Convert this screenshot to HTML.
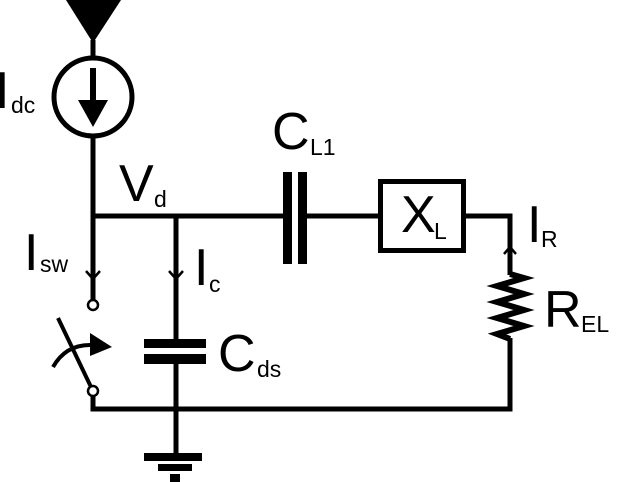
<!DOCTYPE html>
<html>
<head>
<meta charset="utf-8">
<style>
  html,body{margin:0;padding:0;background:#fff;}
  body{width:619px;height:482px;overflow:hidden;}
  svg{display:block;}
  text{font-family:"Liberation Sans", Arial, sans-serif;fill:#000;}
</style>
</head>
<body>
<svg width="619" height="482" viewBox="0 0 619 482" xmlns="http://www.w3.org/2000/svg">
  <!-- supply triangle -->
  <polygon points="66,0 121,0 93,43" fill="#000"/>
  <line x1="93" y1="40" x2="93" y2="58" stroke="#000" stroke-width="5"/>
  <!-- current source -->
  <circle cx="93" cy="97" r="39" fill="none" stroke="#000" stroke-width="5"/>
  <rect x="90" y="68" width="6" height="34" fill="#000"/>
  <polygon points="78,100 108,100 93,127" fill="#000"/>
  <!-- left vertical wire -->
  <line x1="93" y1="136" x2="93" y2="300" stroke="#000" stroke-width="5"/>
  <!-- top horizontal wire -->
  <line x1="90.5" y1="216" x2="283" y2="216" stroke="#000" stroke-width="5"/>
  <line x1="307" y1="216" x2="380" y2="216" stroke="#000" stroke-width="5"/>
  <line x1="463" y1="216" x2="512.5" y2="216" stroke="#000" stroke-width="5"/>
  <!-- CL1 capacitor -->
  <rect x="283" y="172" width="9" height="92" fill="#000"/>
  <rect x="298" y="172" width="9" height="92" fill="#000"/>
  <!-- XL box -->
  <rect x="380.5" y="181.5" width="83" height="69" fill="#fff" stroke="#000" stroke-width="5"/>
  <!-- right vertical -->
  <line x1="510" y1="213.5" x2="510" y2="275" stroke="#000" stroke-width="5"/>
  <polyline points="510,274 524,278 497,286 524,294 497,302 524,310 497,318 524,326 497,334 510,339" fill="none" stroke="#000" stroke-width="6" stroke-linejoin="miter"/>
  <line x1="510" y1="338" x2="510" y2="411.5" stroke="#000" stroke-width="5"/>
  <!-- bottom wire -->
  <line x1="93" y1="396" x2="93" y2="411.5" stroke="#000" stroke-width="5"/>
  <line x1="90.5" y1="409" x2="512.5" y2="409" stroke="#000" stroke-width="5"/>
  <!-- Cds branch -->
  <line x1="176" y1="216" x2="176" y2="340" stroke="#000" stroke-width="5"/>
  <rect x="144" y="339" width="62" height="9" fill="#000"/>
  <rect x="144" y="354" width="62" height="10" fill="#000"/>
  <line x1="176" y1="363" x2="176" y2="454" stroke="#000" stroke-width="5"/>
  <!-- ground -->
  <rect x="144" y="453" width="58" height="8" fill="#000"/>
  <rect x="158" y="464" width="34" height="7" fill="#000"/>
  <rect x="170" y="474" width="10" height="8" fill="#000"/>
  <!-- current chevrons -->
  <polyline points="86,271 93,279 100,271" fill="none" stroke="#000" stroke-width="2.5"/>
  <polyline points="169,271 176,279 183,271" fill="none" stroke="#000" stroke-width="2.5"/>
  <polyline points="504,254 510,247 516,254" fill="none" stroke="#000" stroke-width="2.5"/>
  <!-- switch -->
  <line x1="58" y1="318" x2="91" y2="387" stroke="#000" stroke-width="4"/>
  <circle cx="93" cy="305" r="5" fill="#fff" stroke="#000" stroke-width="2.5"/>
  <circle cx="93" cy="391" r="5" fill="#fff" stroke="#000" stroke-width="2.5"/>
  <path d="M53,367 Q66,344 92,345" fill="none" stroke="#000" stroke-width="4"/>
  <polygon points="90,333 90,356 112,347" fill="#000"/>
  <!-- labels -->
  <text x="-5" y="108" font-size="52">I</text>
  <text x="11" y="113" font-size="23">dc</text>
  <text x="119" y="201" font-size="52">V</text>
  <text x="154" y="207" font-size="23">d</text>
  <text x="24" y="270" font-size="52">I</text>
  <text x="40" y="272" font-size="23">sw</text>
  <text x="194" y="285" font-size="52">I</text>
  <text x="209" y="292" font-size="23">c</text>
  <text x="218" y="371" font-size="52">C</text>
  <text x="257" y="377" font-size="23">ds</text>
  <text x="272" y="149" font-size="52">C</text>
  <text x="310" y="155" font-size="23">L1</text>
  <text x="401" y="232" font-size="52">X</text>
  <text x="434" y="239" font-size="23">L</text>
  <text x="527" y="242" font-size="52">I</text>
  <text x="541" y="247" font-size="23">R</text>
  <text x="544" y="327" font-size="52">R</text>
  <text x="581" y="332" font-size="23">EL</text>
</svg>
</body>
</html>
